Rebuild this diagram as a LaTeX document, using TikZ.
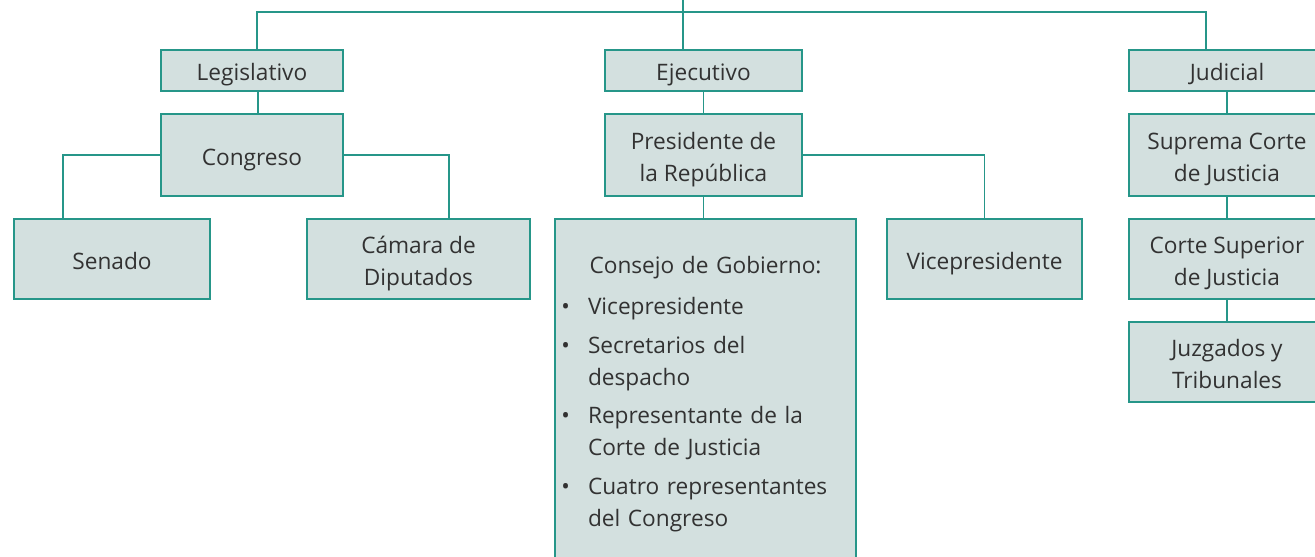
\documentclass[tikz,border=0pt]{standalone}
\usepackage{fontspec}
\setmainfont{Open Sans}
\usetikzlibrary{positioning}
\definecolor{orgteal}{RGB}{38,150,137}
\definecolor{orgfill}{RGB}{211,224,223}
\definecolor{orgtext}{RGB}{50,50,50}

\begin{document}
\begin{tikzpicture}[x=0.75pt, y=-0.75pt,
  box/.style 2 args={draw=orgteal, fill=orgfill, line width=1.2pt, outer sep=0pt,
    inner sep=0pt, align=center, text=orgtext, font=\fontsize{17}{24}\selectfont,
    minimum width=#1*0.75pt, minimum height=#2*0.75pt},
  oneline/.style={text height=22pt, text depth=7pt},
  twoline/.style={text height=46pt, text depth=7pt},
  link/.style={draw=orgteal, line width=1.2pt}]
  \useasboundingbox (0,0) rectangle (1315,557);
  \clip (0,0) rectangle (1315,557);

  % Legislativo
  \node[box={182}{41}, oneline] (legis) at (252,70.5) {Legislativo};
  \node[box={182}{82}, oneline, below=17.25pt of legis] (congreso) {Congreso};
  \node[box={196}{80}, oneline] (senado) at (112,259) {Senado};
  \node[box={223}{80}, twoline] (camara) at (418.5,259) {Cámara de\\Diputados};

  % Ejecutivo
  \node[box={197}{41}, oneline] (ejec) at (703.5,70.5) {Ejecutivo};
  \node[box={197}{82}, twoline, below=17.25pt of ejec] (pres) {Presidente de\\la República};
  \node[box={301}{0}, anchor=north, align=left, inner xsep=9pt, text width=207.75pt,
    text height=40.5pt, text depth=220pt] (consejo) at (705.5,219) {%
    \makebox[\linewidth][c]{Consejo de Gobierno:}\par\vspace{7pt}
    \begin{list}{\llap{\textbullet}}{\setlength{\leftmargin}{15.75pt}%
      \setlength{\labelsep}{13.5pt}\setlength{\labelwidth}{0pt}\setlength{\itemsep}{5pt}%
      \setlength{\parsep}{0pt}\setlength{\topsep}{0pt}\setlength{\partopsep}{0pt}}
    \item Vicepresidente
    \item Secretarios del\newline despacho
    \item Representante de la\newline Corte de Justicia
    \item Cuatro representantes\newline del Congreso
    \end{list}};
  \node[box={195}{80}, oneline] (vice) at (984.5,259) {Vicepresidente};

  % Judicial
  \node[box={196}{41}, oneline] (judicial) at (1227,70.5) {Judicial};
  \node[box={196}{82}, twoline, below=17.25pt of judicial] (suprema) {Suprema Corte\\de Justicia};
  \node[box={196}{80}, twoline, below=17.25pt of suprema] (cortesup) {Corte Superior\\de Justicia};
  \node[box={196}{80}, twoline, below=17.25pt of cortesup] (juzgados) {Juzgados y\\Tribunales};

  % connectors
  \coordinate (root) at (683,0);
  \coordinate (bus) at (683,12);
  \coordinate (legx) at (257,0);
  \coordinate (congx) at (258,0);
  \coordinate (judx) at (1206,0);
  \coordinate (senx) at (63,0);
  \coordinate (camx) at (449,0);
  \draw[link] (legis.north -| legx) |- (bus) -| (judicial.north -| judx);
  \draw[link] (root) -- (ejec.north -| root);
  \draw[link] (legis.south -| congx) -- (congreso.north -| congx);
  \draw[link] (congreso.west) -| (senado.north -| senx);
  \draw[link] (congreso.east) -| (camara.north -| camx);
  \draw[link] (ejec) -- (pres);
  \draw[link] (pres.south) -- (pres.south |- consejo.north);
  \draw[link] (pres.east) -| (vice.north);
  \draw[link] (judicial) -- (suprema);
  \draw[link] (suprema) -- (cortesup);
  \draw[link] (cortesup) -- (juzgados);
\end{tikzpicture}
\end{document}
